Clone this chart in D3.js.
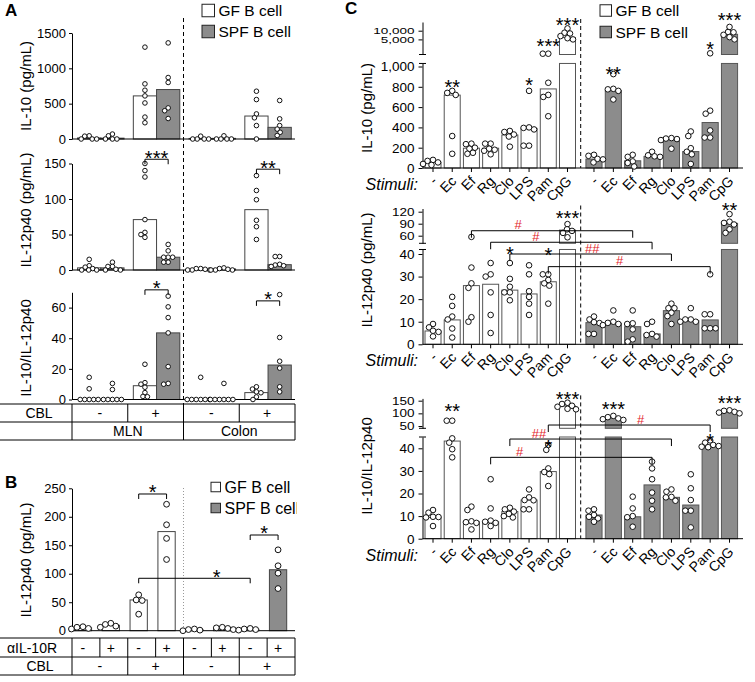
<!DOCTYPE html>
<html><head><meta charset="utf-8">
<script src="https://cdn.jsdelivr.net/npm/d3@7"></script>
<style>body{margin:0;background:#fff}</style>
</head><body>
<svg id="chart" width="755" height="682"></svg>
<script>
// ================= DATA =================
const groupNames = ["GF B cell", "SPF B cell"];

// ---- Panel A ----
const aConditions = ["MLN -", "MLN +", "Colon -", "Colon +"];
const aCBL = ["-", "+", "-", "+"];
const aTissues = ["MLN", "Colon"];

const aIL10Ticks = [0, 500, 1000, 1500];
const aIL10GF  = [[45,0,0,0,40], [1300,780,690,610,510,310,230], [0,0,40,0,0], [676,558,355,300,190,0]];
const aIL10SPF = [[70,0,0,0,45], [1360,870,800,440,400,290], [0,0,45,0,0], [545,285,190,140,95,50]];
const aIL10BarGF  = [15, 610, 8, 325];
const aIL10BarSPF = [12, 700, 9, 165];

const aIL12Ticks = [0, 50, 100, 150];
const aIL12GF  = [[15,6,4,2,0,0,0], [150,140,131,71,53,50,46], [2,2,1,0,0,0], [133,112,99,70,61,43]];
const aIL12SPF = [[11,5,5,1,0,0], [36,27,18,18,18,11,11], [3,2,1,0,0,0], [19,19,8,7,6,5]];
const aIL12BarGF  = [3, 71, 1, 85];
const aIL12BarSPF = [3, 18, 1.5, 7.5];
const aIL12Sig = [{cond:1, level:156, label:"***"}, {cond:3, level:142, label:"**"}];

const aRatioTicks = [0, 20, 40, 60];
const aRatioGF  = [[14.5,7,0,0,0,0,0], [23,11,10,8,4.5,2,1.8], [14.5,0,0,0,0,0,0], [8.3,6.8,5,4.4,1.7,0]];
const aRatioSPF = [[10.5,6.5,0,0,0,0,0], [67.5,60.5,53.5,43.5,21.5,10.5,10], [10.5,0,0,0,0,0,0], [68.5,40.5,25,20.5,8.3,5]];
const aRatioBarGF  = [0, 9, 0, 4.5];
const aRatioBarSPF = [0, 43.5, 0, 22.5];
const aRatioSig = [{cond:1, level:71.6, label:"*"}, {cond:3, level:64.4, label:"*"}];

// ---- Panel B ----
const bAntiIL10R = ["-", "+", "-", "+", "-", "+", "-", "+"];
const bCBL = ["-", "+", "-", "+"];
const bGroup = ["GF","GF","GF","GF","SPF","SPF","SPF","SPF"];
const bTicks = [0, 50, 100, 150, 200, 250];
const bValues = [[7,6,4,3], [13,11,8,6], [63,54,53,29], [222,186,162,125], [3,2,1,0], [6,5,4,2], [4,3,2,1], [142,114,101,74]];
const bBars = [5, 9.5, 54, 174, 1.5, 4.5, 2.5, 107];
const bSig = [{from:2, to:3, level:240, label:"*", frac:0.5}, {from:6, to:7, level:168, label:"*", frac:0.5}, {from:2, to:6, level:92, label:"*", frac:0.7}];

// ---- Panel C ----
const cStimuli = ["-", "Ec", "Ef", "Rg", "Clo", "LPS", "Pam", "CpG"];

const cIL10LowTicks = [0, 200, 400, 600, 800, 1000];
const cIL10HighTicks = [5000, 10000];
const cIL10GF = [[80,70,55,40,30], [760,740,720,315,140], [240,235,200,190,150,140], [240,240,190,180,170,135],
  [365,355,330,310,210], [760,400,395,380,220,220], [1600,1600,840,720,700,510], [12000,8500,8000,6500,5500,5000]];
const cIL10SPF = [[130,120,90,85,55], [925,780,775,760,675], [130,110,65,50,15], [160,125,115,110],
  [295,290,285,275,190], [360,315,195,160,135,40], [1650,565,535,370,300,300], [13500,9000,8800,7200,6000,5000]];
const cIL10BarGF  = [58, 718, 195, 195, 325, 390, 779, 5800];
const cIL10BarSPF = [88, 763, 71, 114, 282, 162, 448, 7500];
const cIL10Stars = [{g:0,i:1,s:"**",gap:8}, {g:0,i:5,s:"*",gap:10}, {g:0,i:6,s:"***",gap:12}, {g:0,i:7,s:"***",gap:8},
  {g:1,i:1,s:"**",gap:5}, {g:1,i:6,s:"*",gap:9}, {g:1,i:7,s:"***",gap:11}];

const cIL12LowTicks = [0, 10, 20, 30, 40];
const cIL12HighTicks = [60, 90, 120];
const cIL12GF = [[9,7.5,6,5.5,3.5], [21,17,12.3,11,7,3], [57,34,27,25,12,10], [36,31,30,23,13,5],
  [36,29,25.5,23,23,19.5], [35,31,23.5,21,18,13], [31,31,28.5,27,26,18], [89,76,72,67,56]];
const cIL12SPF = [[12.3,11,9.8,9.4,4.6,4.6], [15,10,9.5,9,8.5], [15,9.3,9,6.6,2.2,1.2], [10,9,4.6,4.1,3.4],
  [18,16,16,14,12.5,9], [16,11,11,10,10], [31,13.3,13.3,7.1,7.1,7.1], [114,95,92,88,76,67]];
const cIL12BarGF  = [5.9, 10.8, 26, 26.6, 24, 22.3, 27.7, 74];
const cIL12BarSPF = [9.6, 9.3, 7.8, 4.6, 14.9, 10.5, 10.8, 90.8];
const cIL12Stars = [{g:0,i:7,s:"***",gap:11}, {g:1,i:7,s:"**",gap:9}, {g:0,i:4,s:"*",gap:13}, {g:0,i:6,s:"*",gap:24}];
const cIL12Hash = [{i:2, level:50.3, label:"#", frac:0.29}, {i:3, level:45.2, label:"#", frac:0.28},
  {i:4, level:40.0, label:"##", frac:0.51}, {i:6, level:34.4, label:"#", frac:0.44}];

const cRatioLowTicks = [0, 10, 20, 30, 40];
const cRatioHighTicks = [50, 100, 150];
const cRatioGF = [[12.7,11.5,9.7,9.6,9.4,5.6], [71,71,44.4,42.5,39.6,36], [14.2,12.7,7.7,7.3,7,4.1], [26.3,13.4,8,7.5,7,5.6],
  [13.7,13,12,11,10,9.4], [21.8,18.3,17.1,17,13,13], [41.5,39.3,31.1,29.5,28.6,23.3], [142,137,130,126,118,116]];
const cRatioSPF = [[13,12.4,10.5,9.7,9,7.5], [90,85,80,77,74], [18.6,13.4,10,9.5,5.3], [34.1,31.1,26.3,20.4,16.8,13],
  [21.8,20.8,18.5,18.3,16.8], [28.5,22.3,17.1,12.4,12.4,5], [43.5,42.5,41.5,41,40.7,40.5], [112,110,106,103,100]];
const cRatioBarGF  = [9.4, 43.2, 7.5, 7.5, 12, 17.1, 29.7, 129];
const cRatioBarSPF = [10.5, 80.3, 9.7, 23.8, 18.3, 14.9, 41, 110.5];
const cRatioStars = [{g:0,i:1,s:"**",gap:14}, {g:0,i:7,s:"***",gap:8}, {g:1,i:1,s:"***",gap:11}, {g:1,i:7,s:"***",gap:12},
  {g:0,i:6,s:"*",gap:2}, {g:1,i:6,s:"*",gap:4}];
const cRatioHash = [{i:3, level:36.0, label:"#", frac:0.18}, {i:4, level:44.1, label:"##", frac:0.18}, {i:6, level:50.3, label:"#", frac:0.57}];

// ================= STYLE =================
const FONT = '"Liberation Sans", Arial, Helvetica, sans-serif';
const SPF_FILL = "#8c8c8c";
const BAR_STROKE = "#444";
const RED = "#e3262b";

const svg = d3.select("#chart").attr("font-family", FONT);

function text(x, y, s, o = {}) {
  const t = svg.append("text").attr("x", x).attr("y", y).text(s)
    .attr("font-size", o.size || 14).attr("fill", o.fill || "#000")
    .attr("text-anchor", o.anchor || "middle");
  if (o.weight) t.attr("font-weight", o.weight);
  if (o.style) t.attr("font-style", o.style);
  if (o.transform) t.attr("transform", o.transform).attr("x", 0).attr("y", 0);
  return t;
}
function styleAxis(g, fs) {
  g.attr("font-family", FONT).attr("font-size", fs);
  g.select(".domain").attr("stroke", "#000").attr("stroke-width", 1);
  g.selectAll(".tick line").attr("stroke", "#000");
  g.selectAll(".tick text").attr("fill", "#000");
}
function line(x1, y1, x2, y2, o = {}) {
  return svg.append("line").attr("x1", x1).attr("y1", y1).attr("x2", x2).attr("y2", y2)
    .attr("stroke", o.stroke || "#000").attr("stroke-width", o.width || 1)
    .attr("stroke-dasharray", o.dash || null);
}
// simple beeswarm
function swarm(vals, yf, cx, d) {
  const placed = [];
  vals.slice().sort((a, b) => b - a).forEach(v => {
    const y = yf(v);
    let x = cx;
    for (let k = 0; k < 200; k++) {
      const off = (k % 2 ? -1 : 1) * Math.ceil(k / 2) * 0.5;
      const cand = cx + off;
      if (placed.every(p => Math.hypot(p.x - cand, p.y - y) >= d)) { x = cand; break; }
    }
    placed.push({x, y, v});
  });
  return placed;
}
function dots(pts, r) {
  pts.forEach(p => svg.append("circle").attr("cx", p.x).attr("cy", p.y).attr("r", r)
    .attr("fill", "#fff").attr("stroke", "#111").attr("stroke-width", 1));
}
function star(x, cy, s) {
  text(x, cy + 11.4, s, {size: 20});
}
function bracket(x1, x2, yl, tick, label, frac, kind) {
  svg.append("path").attr("d", `M${x1},${yl + tick}V${yl}H${x2}V${yl + tick}`)
    .attr("fill", "none").attr("stroke", "#000").attr("stroke-width", 1);
  const lx = x1 + (x2 - x1) * frac;
  if (kind === "hash") text(lx, yl - 1.5, label, {size: 13, fill: RED});
  else star(lx, yl - 6, label);
}
function legend(x, y1, y2, box, fs) {
  [[y1, "#fff"], [y2, SPF_FILL]].forEach(([yy, f], i) => {
    svg.append("rect").attr("x", x).attr("y", yy - box / 2).attr("width", box).attr("height", box)
      .attr("fill", f).attr("stroke", "#222").attr("stroke-width", 1);
    text(x + box + 4, yy + fs * 0.36, groupNames[i], {size: fs, anchor: "start"});
  });
}

// ================= PANEL A =================
text(5, 16, "A", {size: 17, weight: "bold", anchor: "start"});
legend(202, 10.5, 31.5, 12.5, 15.5);

const aX = d3.scaleBand().domain(aConditions).range([72, 295]);
const aG = d3.scaleBand().domain(["GF", "SPF"]).range([0, aX.bandwidth()]).paddingOuter(0.2).align(0.6);

const aPanels = [
  {title: "IL-10 (pg/mL)", gf: aIL10GF, spf: aIL10SPF, barGF: aIL10BarGF, barSPF: aIL10BarSPF,
   domain: [0, 1500], ticks: aIL10Ticks, range: [139, 33], sig: [], titleY: 86},
  {title: "IL-12p40 (pg/mL)", gf: aIL12GF, spf: aIL12SPF, barGF: aIL12BarGF, barSPF: aIL12BarSPF,
   domain: [0, 150], ticks: aIL12Ticks, range: [270, 163.5], sig: aIL12Sig, titleY: 210},
  {title: "IL-10/IL-12p40", gf: aRatioGF, spf: aRatioSPF, barGF: aRatioBarGF, barSPF: aRatioBarSPF,
   domain: [0, 70], ticks: aRatioTicks, range: [399.5, 292.3], sig: aRatioSig, titleY: 348}
];

aPanels.forEach(p => {
  const y = d3.scaleLinear().domain(p.domain).range(p.range);
  const g = svg.append("g").attr("transform", "translate(72,0)")
    .call(d3.axisLeft(y).tickValues(p.ticks).tickFormat(d3.format("d")).tickSize(3).tickPadding(3).tickSizeOuter(0));
  styleAxis(g, 13);
  text(0, 0, p.title, {size: 15, transform: `translate(31,${p.titleY}) rotate(-90)`});
  aConditions.forEach((c, i) => {
    [["GF", p.barGF, "#fff"], ["SPF", p.barSPF, SPF_FILL]].forEach(([gk, bars, fill]) => {
      const x0 = aX(c) + aG(gk);
      svg.append("rect").attr("x", x0).attr("y", y(bars[i])).attr("width", aG.bandwidth())
        .attr("height", y(0) - y(bars[i])).attr("fill", fill).attr("stroke", BAR_STROKE).attr("stroke-width", 1);
    });
  });
  line(72, y(0), 295, y(0));
  aConditions.forEach((c, i) => {
    [["GF", p.gf], ["SPF", p.spf]].forEach(([gk, dd]) => {
      const cx = aX(c) + aG(gk) + aG.bandwidth() / 2;
      dots(swarm(dd[i], y, cx, 4.2), 2.3);
    });
  });
  p.sig.forEach(s => {
    const c = aConditions[s.cond];
    const x1 = aX(c) + aG("GF") + aG.bandwidth() / 2, x2 = aX(c) + aG("SPF") + aG.bandwidth() / 2;
    bracket(x1, x2, y(s.level), 5, s.label, 0.5, "star");
  });
});
// dashed separator
line(aX(aConditions[2]), 18, aX(aConditions[2]), 404, {dash: "4,3"});
// table A
[404, 422, 440].forEach(yy => line(0, yy, 295, yy));
aConditions.forEach((c, i) => {
  line(aX(c), 404, aX(c), 422);
  text(aX(c) + aX.bandwidth() / 2, 418, aCBL[i], {size: 14});
});
line(295, 404, 295, 440);
aTissues.forEach((t, i) => {
  const xl = aX(aConditions[2 * i]);
  line(xl, 422, xl, 440);
  text(xl + aX.bandwidth(), 436, t, {size: 14});
});
text(39, 418, "CBL", {size: 14});

// ================= PANEL B =================
text(5, 488, "B", {size: 17, weight: "bold", anchor: "start"});
const bSlots = d3.range(8);
const bX = d3.scaleBand().domain(bSlots).range([69, 292]).paddingInner(0.38).paddingOuter(0.19);
const bT = d3.scaleBand().domain(bSlots).range([72, 295]);
const bY = d3.scaleLinear().domain([0, 250]).range([630.7, 488.3]);
const bAx = svg.append("g").attr("transform", "translate(72,0)")
  .call(d3.axisLeft(bY).tickValues(bTicks).tickFormat(d3.format("d")).tickSize(3).tickPadding(3).tickSizeOuter(0));
styleAxis(bAx, 13);
text(0, 0, "IL-12p40 (pg/mL)", {size: 15, transform: "translate(31,560) rotate(-90)"});
line(bT(4), 488, bT(4), 630, {dash: "1,2", stroke: "#999"});
bSlots.forEach(i => {
  svg.append("rect").attr("x", bX(i)).attr("y", bY(bBars[i])).attr("width", bX.bandwidth())
    .attr("height", bY(0) - bY(bBars[i])).attr("fill", bGroup[i] === "GF" ? "#fff" : SPF_FILL)
    .attr("stroke", BAR_STROKE).attr("stroke-width", 1);
});
line(72, bY(0), 295, bY(0));
bSlots.forEach(i => dots(swarm(bValues[i], bY, bX(i) + bX.bandwidth() / 2, 5.6), 2.9));
bSig.forEach(s => bracket(bX(s.from) + bX.bandwidth() / 2, bX(s.to) + bX.bandwidth() / 2, bY(s.level), 5, s.label, s.frac, "star"));
legend(211, 487, 508, 9.5, 16);
// the original cuts the SPF legend text at the panel edge
svg.append("rect").attr("x", 297).attr("y", 495).attr("width", 10).attr("height", 25).attr("fill", "#fff");
// table B
[638, 657, 675].forEach(yy => line(0, yy, 295, yy));
bSlots.forEach(i => {
  line(bT(i), 638, bT(i), 657);
  text(bX(i) + bX.bandwidth() / 2, 653, bAntiIL10R[i], {size: 14});
});
line(295, 638, 295, 675);
bCBL.forEach((c, i) => {
  line(bT(2 * i), 657, bT(2 * i), 675);
  text(bT(2 * i) + bT.bandwidth(), 671, c, {size: 14});
});
text(32, 653, "\u03b1IL-10R", {size: 14});
text(40, 671, "CBL", {size: 14});

// ================= PANEL C =================
text(345, 14, "C", {size: 17, weight: "bold", anchor: "start"});
legend(600, 10.5, 32, 11.5, 15.5);

const cXGF = d3.scaleBand().domain(cStimuli).range([423.4, 577.1]).paddingInner(0.167).paddingOuter(0.0835);
const cXSPF = d3.scaleBand().domain(cStimuli).range([584.3, 739.2]).paddingInner(0.167).paddingOuter(0.0835);
const cXs = [cXGF, cXSPF];
const C_AXIS_X = 422.5;

const cPanels = [
  {title: "IL-10 (pg/mL)", titleY: 108, gf: cIL10GF, spf: cIL10SPF, barGF: cIL10BarGF, barSPF: cIL10BarSPF,
   lower: d3.scaleLinear().domain([0, 1000]).range([168, 66.5]), lowerMax: 1030,
   upper: d3.scaleLog().domain([1500, 20000]).range([54.5, 22]), squeeze: 0.62,
   lowTicks: cIL10LowTicks, highTicks: cIL10HighTicks, stars: cIL10Stars, hash: []},
  {title: "IL-12p40 (pg/mL)", titleY: 270, gf: cIL12GF, spf: cIL12SPF, barGF: cIL12BarGF, barSPF: cIL12BarSPF,
   lower: d3.scaleLinear().domain([0, 40]).range([344.3, 254]), lowerMax: 42,
   upper: d3.scaleLinear().domain([41, 128]).range([243.3, 208.5]), squeeze: 0.8,
   lowTicks: cIL12LowTicks, highTicks: cIL12HighTicks, stars: cIL12Stars, hash: cIL12Hash},
  {title: "IL-10/IL-12p40", titleY: 466, gf: cRatioGF, spf: cRatioSPF, barGF: cRatioBarGF, barSPF: cRatioBarSPF,
   lower: d3.scaleLinear().domain([0, 40]).range([538.7, 448.3]), lowerMax: 45,
   upper: d3.scaleLinear().domain([41, 159]).range([428.3, 398.4]), squeeze: 0.8,
   lowTicks: cRatioLowTicks, highTicks: cRatioHighTicks, stars: cRatioStars, hash: cRatioHash}
];

cPanels.forEach(p => {
  const yOf = v => v <= p.lowerMax ? p.lower(v) : p.upper(v);
  const y0 = p.lower(0);
  const lowTop = p.lower(p.lowerMax);
  const upBottom = p.upper.range()[0], upTop = p.upper.range()[1];
  const lowAxisScale = p.lower.copy().domain([0, p.lowerMax]).range([y0, lowTop]);
  const fmt = d3.format(",");
  const g1 = svg.append("g").attr("transform", `translate(${C_AXIS_X},0)`)
    .call(d3.axisLeft(lowAxisScale).tickValues(p.lowTicks).tickFormat(fmt).tickSize(4).tickPadding(4).tickSizeOuter(0));
  styleAxis(g1, 13.5);
  const g2 = svg.append("g").attr("transform", `translate(${C_AXIS_X},0)`)
    .call(d3.axisLeft(p.upper).tickValues(p.highTicks).tickFormat(fmt).tickSize(4).tickPadding(4).tickSizeOuter(0));
  styleAxis(g2, 13.5);
  g2.selectAll(".tick text").attr("transform", `scale(1,${p.squeeze})`);
  line(C_AXIS_X - 3.5, upBottom, C_AXIS_X + 3.5, upBottom);
  line(C_AXIS_X - 3.5, lowTop, C_AXIS_X + 3.5, lowTop);
  text(0, 0, p.title, {size: 15, transform: `translate(372,${p.titleY}) rotate(-90)`});

  [[p.barGF, "#fff"], [p.barSPF, SPF_FILL]].forEach(([bars, fill], gi) => {
    const xs = cXs[gi];
    cStimuli.forEach((s, i) => {
      const v = bars[i];
      const segs = v <= p.lowerMax ? [[p.lower(v), y0]] : [[lowTop, y0], [p.upper(v), upBottom]];
      segs.forEach(([top, bot]) => {
        svg.append("rect").attr("x", xs(s)).attr("y", top).attr("width", xs.bandwidth())
          .attr("height", bot - top).attr("fill", fill).attr("stroke", "#555").attr("stroke-width", 1);
      });
    });
  });
  // x axis
  line(C_AXIS_X, y0, 743, y0);
  cXs.forEach(xs => cStimuli.forEach(s => {
    const cx = xs(s) + xs.bandwidth() / 2;
    line(cx, y0, cx, y0 + 4);
    text(0, 0, s, {size: 14, anchor: "end", transform: `translate(${cx + 5},${y0 + 14}) rotate(-45)`});
  }));
  text(418, y0 + 22, "Stimuli:", {size: 16, style: "italic", anchor: "end"});
  // dashed separator
  const sepX = (cXGF.range()[1] + cXSPF.range()[0]) / 2;
  line(sepX, upTop - 3, sepX, y0, {dash: "4,3"});
  // dots
  [p.gf, p.spf].forEach((dd, gi) => {
    const xs = cXs[gi];
    cStimuli.forEach((s, i) => dots(swarm(dd[i], yOf, xs(s) + xs.bandwidth() / 2, 5.2), 2.8));
  });
  // brackets
  p.hash.forEach(h => {
    const s = cStimuli[h.i];
    const x1 = cXGF(s) + cXGF.bandwidth() / 2, x2 = cXSPF(s) + cXSPF.bandwidth() / 2;
    bracket(x1, x2, p.lower(h.level), 7, h.label, h.frac, "hash");
  });
  // stars
  p.stars.forEach(st => {
    const xs = cXs[st.g], s = cStimuli[st.i];
    const dd = (st.g === 0 ? p.gf : p.spf)[st.i];
    star(xs(s) + xs.bandwidth() / 2, yOf(d3.max(dd)) - st.gap, st.s);
  });
});
</script>
</body></html>
